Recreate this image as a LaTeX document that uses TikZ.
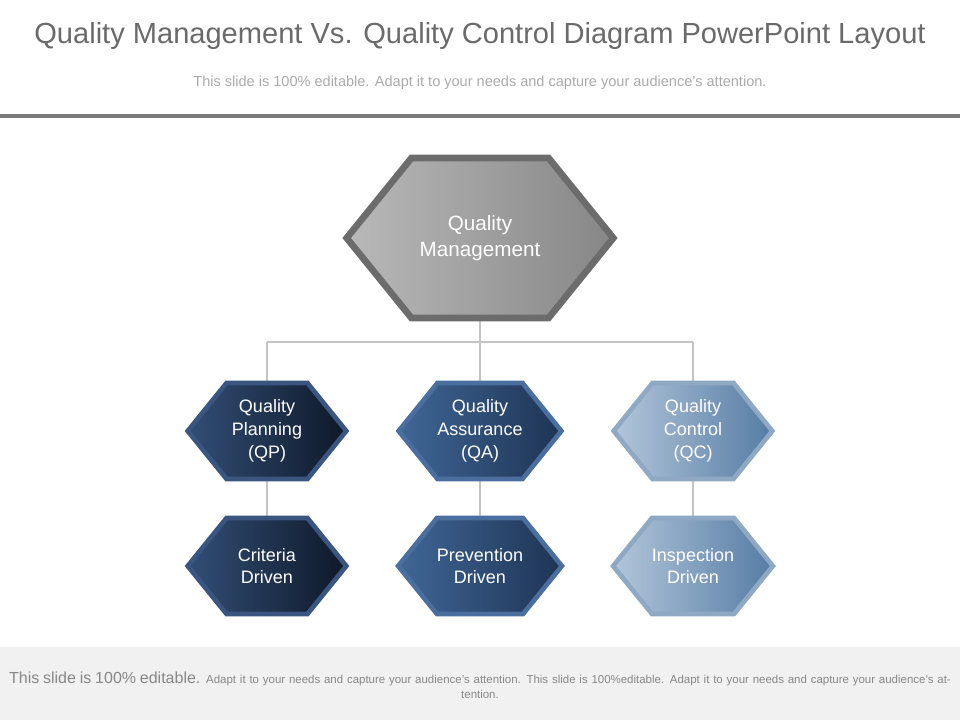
\documentclass[tikz,border=0pt]{standalone}
\usepackage{fontspec}
\setmainfont{Liberation Sans}
\usetikzlibrary{shapes.symbols,backgrounds}

\definecolor{titlegray}{HTML}{6A6A6A}
\definecolor{subgray}{HTML}{AAAAAA}
\definecolor{rulegray}{HTML}{7A7A7A}
\definecolor{linkgray}{HTML}{C4C4C4}
\definecolor{footbg}{HTML}{F1F1F1}

\tikzset{
  hexa/.style={signal, signal to=east and west, signal pointer angle=102,
    inner sep=0pt, text=white, align=center, font=\fontsize{13.5}{17}\selectfont,
    minimum width=119pt, minimum height=72pt, line width=3.5pt},
  qmbox/.style={hexa, minimum width=200pt, minimum height=120pt, line width=5pt,
    draw=gray!85!black, left color=gray!55, right color=gray!95!black!90,
    font=\fontsize{15.5}{19}\selectfont},
  qpbox/.style={hexa, draw={rgb,255:red,58;green,86;blue,128},
    left color={rgb,255:red,50;green,78;blue,118}, right color={rgb,255:red,14;green,24;blue,40}},
  qabox/.style={hexa, draw={rgb,255:red,74;green,111;blue,158},
    left color={rgb,255:red,64;green,102;blue,150}, right color={rgb,255:red,30;green,52;blue,84}},
  qcbox/.style={hexa, draw={rgb,255:red,143;green,168;blue,196},
    left color={rgb,255:red,178;green,198;blue,218}, right color={rgb,255:red,86;green,124;blue,164}},
  link/.style={draw=linkgray, line width=2.2}
}

\begin{document}
\begin{tikzpicture}[x=0.75pt, y=-0.75pt]
  \useasboundingbox (0,0) rectangle (960,720);
  % header
  \node[text=titlegray, font=\fontsize{21.8}{26}\selectfont] (title) at (480,36)
    {Quality Management Vs. Quality Control Diagram PowerPoint Layout};
  \node[text=subgray, font=\fontsize{10.9}{13}\selectfont] (sub) at (480,83)
    {This slide is 100\% editable. Adapt it to your needs and capture your audience’s attention.};
  \fill[rulegray] (0,114) rectangle (960,118);

  % hexagons
  \node[qmbox] (qm) at (480,238) {Quality\\Management};
  \node[qpbox] (qp) at (267,431) {Quality\\Planning\\(QP)};
  \node[qabox] (qa) at (480,431) {Quality\\Assurance\\(QA)};
  \node[qcbox] (qc) at (693,431) {Quality\\Control\\(QC)};
  \node[qpbox] (cd) at (267,566) {Criteria\\Driven};
  \node[qabox] (pd) at (480,566) {Prevention\\Driven};
  \node[qcbox] (id) at (693,566) {Inspection\\Driven};

  % connectors
  \coordinate (bar) at (480,342);
  \coordinate (barl) at (267,342);
  \coordinate (barr) at (693,342);
  \begin{scope}[on background layer]
    \path[link] (qm.center) -- (bar) (barl) -- (barr)
      (barl) -- (qp.center) (bar) -- (qa.center) (barr) -- (qc.center)
      (qp.center) -- (cd.center) (qa.center) -- (pd.center) (qc.center) -- (id.center);
  \end{scope}

  % footer
  \fill[footbg] (0,647) rectangle (960,720);
  \node[text=subgray!80!black, align=center, text width=708pt, font=\fontsize{8.6}{11}\selectfont] (foot) at (480,685)
    {{\fontsize{12}{11}\selectfont This slide is 100\% editable.} Adapt it to your needs and capture your audience’s attention. This slide is 100\%editable. Adapt it to your needs and capture your audience’s attention.};
\end{tikzpicture}
\end{document}
